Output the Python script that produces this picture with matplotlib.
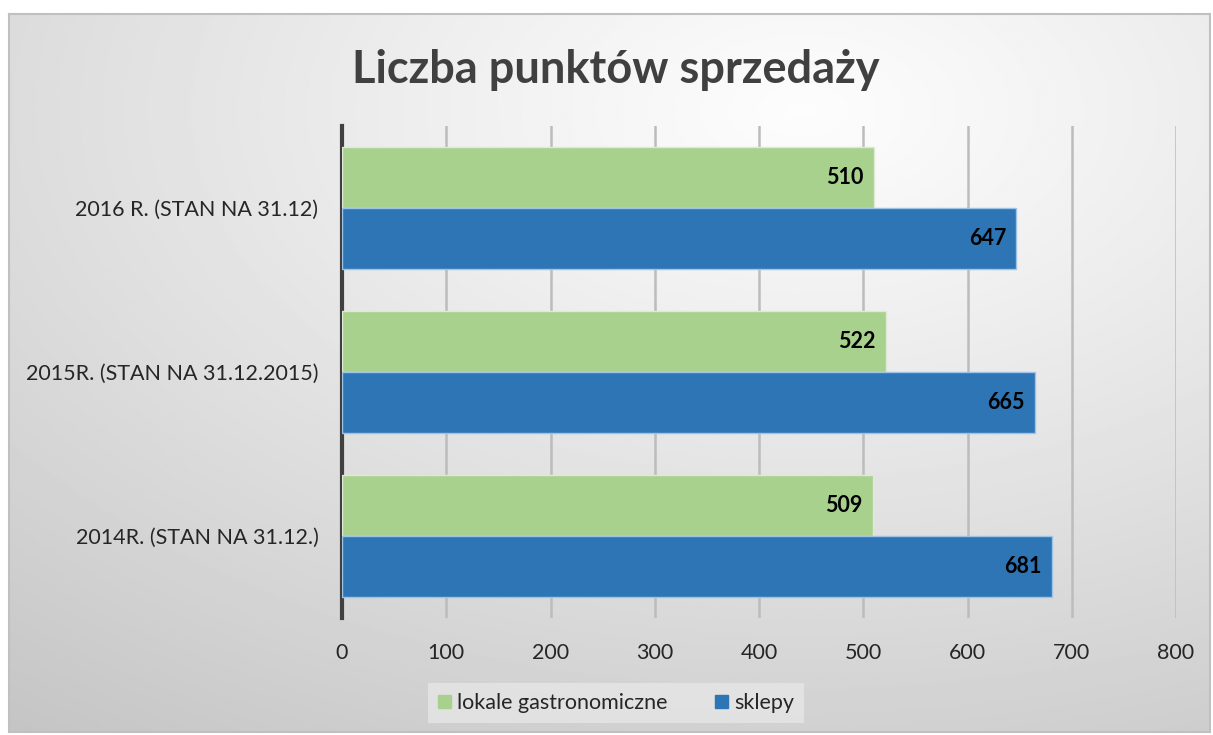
import numpy as np
import matplotlib.pyplot as plt
from matplotlib.patches import Rectangle

plt.rcParams['font.family'] = ['Lato', 'DejaVu Sans']

categories = ['2014R. (STAN NA 31.12.)', '2015R. (STAN NA 31.12.2015)', '2016 R. (STAN NA 31.12)']
lokale = [509, 522, 510]
sklepy = [681, 665, 647]
series_names = ['lokale gastronomiczne', 'sklepy']
colors = ['#a9d18e', '#2e75b6']

fig = plt.figure(figsize=(12.13, 7.35), dpi=100)
fig.patch.set_facecolor('white')

# background panel with radial gradient
bg = fig.add_axes([9 / 1213, 3 / 735, 1201 / 1213, 718 / 735])
yy, xx = np.mgrid[0:300, 0:500]
cx, cy = 330, 40
r = np.sqrt(((xx - cx) / 500) ** 2 + ((yy - cy) / 300) ** 2)
r = r / r.max()
img = 0.99 - 0.22 * r ** 1.1
bg.imshow(img, cmap='gray', vmin=0, vmax=1, aspect='auto', extent=[0, 1, 0, 1], origin='upper')
bg.set_xlim(0, 1)
bg.set_ylim(0, 1)
for s in bg.spines.values():
    s.set_color('#c0c0c0')
    s.set_linewidth(1.5)
bg.set_xticks([])
bg.set_yticks([])

ax = fig.add_axes([342 / 1213, 117 / 735, 834 / 1213, 492 / 735])
ax.patch.set_alpha(0)
y = np.arange(len(categories))
h = 0.37
b1 = ax.barh(y + h / 2, lokale, height=h, color=colors[0], edgecolor='#dfe9d6', linewidth=1, label=series_names[0], zorder=3)
b2 = ax.barh(y - h / 2, sklepy, height=h, color=colors[1], edgecolor='#9dc3e6', linewidth=1, label=series_names[1], zorder=3)

for bars, vals in [(b1, lokale), (b2, sklepy)]:
    for rect, v in zip(bars, vals):
        ax.text(v - 10, rect.get_y() + rect.get_height() / 2, str(v), ha='right', va='center',
                fontsize=15.5, fontweight='bold', color='black', zorder=4)

ax.set_xlim(0, 800)
ax.set_ylim(-0.5, 2.5)
ax.set_xticks(range(0, 801, 100))
ax.set_yticks(y)
ax.set_yticklabels(categories)
ax.grid(axis='x', color='#bcbcbc', linewidth=1.8, zorder=0)
ax.tick_params(axis='both', length=0, labelsize=15.5, colors='#404040', labelcolor='#262626')
ax.tick_params(axis='x', pad=18)
ax.tick_params(axis='y', pad=17)
for s in ['top', 'right', 'bottom']:
    ax.spines[s].set_visible(False)
ax.spines['left'].set_color('#404040')
ax.spines['left'].set_linewidth(3)

fig.text(616 / 1213, 1 - 70 / 735, 'Liczba punktów sprzedaży', ha='center', va='center',
         fontsize=32.5, fontweight='bold', color='#404040')

handles = [Rectangle((0, 0), 1, 1, color=c) for c in colors]
leg = fig.legend(handles, series_names, loc='center', bbox_to_anchor=(616 / 1213, 1 - 703 / 735),
                 ncol=2, fontsize=15.5, frameon=True, fancybox=False, handlelength=0.6, handleheight=0.6,
                 handletextpad=0.3, columnspacing=2.2, borderpad=0.45)
leg.get_frame().set_facecolor('#e6e6e6')
leg.get_frame().set_edgecolor('none')
for t in leg.get_texts():
    t.set_color('#262626')

fig.savefig('out.png', dpi=100)
